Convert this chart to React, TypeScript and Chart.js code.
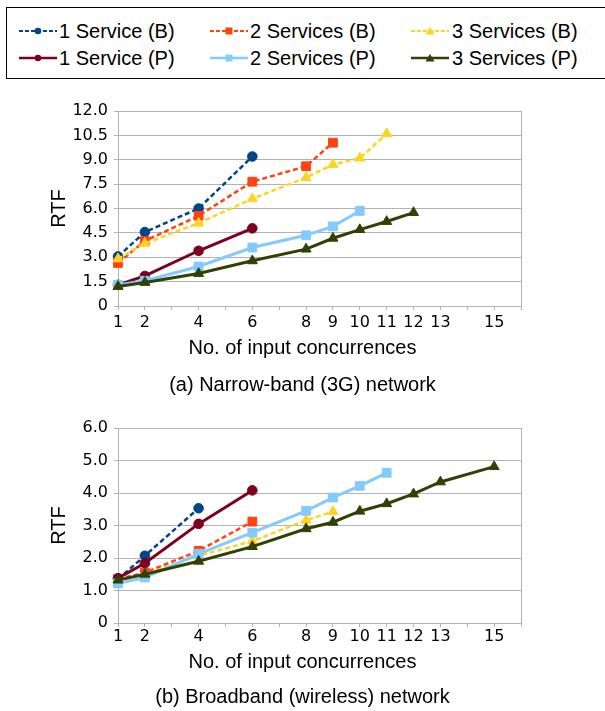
import React, { useEffect, useRef } from "react";
import { Chart, registerables } from "chart.js";

Chart.register(...registerables);

// ---- data ----
const CONCURRENCY = [1, 2, 4, 6, 8, 9, 10, 11, 12, 13, 15];
const X_TICK_MARKS = [1, 2, 3, 4, 5, 6, 7, 8, 9, 10, 11, 12, 13, 14, 15, 16];
const X_TICK_LABELS = [1, 2, 4, 6, 8, 9, 10, 11, 12, 13, 15];

const SERIES_NAMES = [
  "1 Service (B)",
  "2 Services (B)",
  "3 Services (B)",
  "1 Service (P)",
  "2 Services (P)",
  "3 Services (P)",
];
const SERIES_COLORS = ["#004586", "#ff420e", "#ffd320", "#7e0021", "#83caff", "#314004"];
const SERIES_DASHED = [true, true, true, false, false, false];
const SERIES_MARKERS = ["circle", "rect", "triangle", "circle", "rect", "triangle"];

// (a) Narrow-band (3G) network
const NB_1S_B = [3.05, 4.55, 6.0, 9.2];
const NB_2S_B = [2.65, 4.0, 5.55, 7.65, 8.6, 10.05];
const NB_3S_B = [2.9, 3.85, 5.1, 6.6, 7.9, 8.7, 9.1, 10.6];
const NB_1S_P = [1.3, 1.85, 3.4, 4.78];
const NB_2S_P = [1.3, 1.55, 2.43, 3.6, 4.35, 4.9, 5.85];
const NB_3S_P = [1.2, 1.45, 2.0, 2.78, 3.5, 4.17, 4.7, 5.2, 5.75];
const NB_Y_TICKS = [0, 1.5, 3, 4.5, 6, 7.5, 9, 10.5, 12];

// (b) Broadband (wireless) network
const BB_1S_B = [1.35, 2.07, 3.53];
const BB_2S_B = [1.35, 1.55, 2.22, 3.12];
const BB_3S_B = [1.3, 1.5, 2.07, 2.52, 3.16, 3.43];
const BB_1S_P = [1.38, 1.84, 3.05, 4.08];
const BB_2S_P = [1.22, 1.4, 2.13, 2.78, 3.45, 3.86, 4.22, 4.62];
const BB_3S_P = [1.32, 1.5, 1.9, 2.35, 2.9, 3.1, 3.44, 3.67, 3.97, 4.34, 4.81];
const BB_Y_TICKS = [0, 1, 2, 3, 4, 5, 6];

const TEXT_FONT = "'Liberation Sans', Arial, sans-serif";
const TICK_FONT = "'DejaVu Sans', sans-serif";
const GRID = "#b3b3b3";

const MARKER_RADIUS: Record<string, number> = { circle: 4.8, rect: 6.2, triangle: 5.8 };

function buildDatasets(series: number[][]) {
  const ds = series.map((ys, i) => ({
    label: SERIES_NAMES[i],
    data: ys.map((y, k) => ({ x: CONCURRENCY[k], y })),
    borderColor: SERIES_COLORS[i],
    backgroundColor: SERIES_COLORS[i],
    pointBackgroundColor: SERIES_COLORS[i],
    pointBorderColor: SERIES_COLORS[i],
    borderWidth: SERIES_DASHED[i] ? 2.5 : 3,
    borderDash: SERIES_DASHED[i] ? [5, 3] : [],
    pointStyle: SERIES_MARKERS[i],
    pointRadius: MARKER_RADIUS[SERIES_MARKERS[i]],
    pointBorderWidth: 1,
    tension: 0,
    clip: 12,
    yAxisID: "y",
  }));
  return ds.reverse();
}

const framePlugin = {
  id: "frame",
  beforeDatasetsDraw(chart: any) {
    const { ctx, chartArea } = chart;
    ctx.save();
    ctx.strokeStyle = GRID;
    ctx.lineWidth = 1;
    ctx.beginPath();
    const x = Math.round(chartArea.right) + 0.5;
    ctx.moveTo(x, chartArea.top);
    ctx.lineTo(x, chartArea.bottom);
    ctx.stroke();
    ctx.restore();
  },
};

type ChartProps = {
  series: number[][];
  yTicks: number[];
  yFormat: (v: number) => string;
  caption: string;
  top: number;
  height: number;
  padTop: number;
  xAxisHeight: number;
  xTickPadding: number;
  subPadTop: number;
  capPadTop: number;
  capPadBottom: number;
};

function RtfChart(p: ChartProps) {
  const ref = useRef<HTMLCanvasElement | null>(null);
  useEffect(() => {
    if (!ref.current) return;
    const yMax = p.yTicks[p.yTicks.length - 1];
    const chart = new Chart(ref.current, {
      type: "line",
      data: { datasets: buildDatasets(p.series) as any },
      plugins: [framePlugin],
      options: {
        responsive: false,
        animation: false,
        events: [],
        layout: { padding: { top: p.padTop, left: 0, right: 0, bottom: 0 } },
        plugins: {
          legend: { display: false },
          tooltip: { enabled: false },
          subtitle: {
            display: true,
            position: "bottom",
            text: "No. of input concurrences",
            color: "#000",
            font: { family: TEXT_FONT, size: 20, weight: "normal" as any, lineHeight: 1.2 },
            padding: { top: p.subPadTop, bottom: 0 },
          },
          title: {
            display: true,
            position: "bottom",
            text: p.caption,
            color: "#000",
            font: { family: TEXT_FONT, size: 20, weight: "normal" as any, lineHeight: 1.2 },
            padding: { top: p.capPadTop, bottom: p.capPadBottom },
          },
        },
        scales: {
          x: {
            type: "linear",
            min: 1,
            max: 16,
            afterBuildTicks: (s: any) => {
              s.ticks = X_TICK_MARKS.map((v) => ({ value: v }));
            },
            afterFit: (s: any) => {
              s.height = p.xAxisHeight;
            },
            ticks: {
              autoSkip: false,
              maxRotation: 0,
              minRotation: 0,
              padding: p.xTickPadding,
              color: "#000",
              font: { family: TICK_FONT, size: 16 },
              callback: (v: any) => (X_TICK_LABELS.includes(Number(v)) ? String(v) : ""),
            },
            grid: { drawOnChartArea: false, drawTicks: true, tickLength: 4, color: GRID },
            border: { color: GRID },
          },
          y: {
            type: "linear",
            position: "left",
            min: 0,
            max: yMax,
            afterBuildTicks: (s: any) => {
              s.ticks = p.yTicks.map((v) => ({ value: v }));
            },
            afterFit: (s: any) => {
              s.width = 118;
            },
            ticks: {
              padding: 6,
              color: "#000",
              font: { family: TICK_FONT, size: 16 },
              callback: (v: any) => p.yFormat(Number(v)),
            },
            grid: { color: GRID, tickLength: 4 },
            border: { color: GRID },
            title: {
              display: true,
              text: "RTF",
              color: "#000",
              font: { family: TEXT_FONT, size: 20, lineHeight: 1.2 },
              padding: { top: 47, bottom: 0 },
            },
          },
          spacer: {
            type: "linear",
            position: "right",
            display: true,
            min: 0,
            max: 1,
            ticks: { display: false },
            grid: { display: false, drawTicks: false },
            border: { display: false },
            afterFit: (s: any) => {
              s.width = 84;
            },
          },
        },
      } as any,
    });
    return () => chart.destroy();
  }, []);
  return (
    <canvas
      ref={ref}
      width={605}
      height={p.height}
      style={{ position: "absolute", left: 0, top: p.top, width: 605, height: p.height, display: "block" }}
    />
  );
}

function Swatch({ i }: { i: number }) {
  const c = SERIES_COLORS[i];
  const m = SERIES_MARKERS[i];
  return (
    <svg width={40} height={14} style={{ display: "block" }}>
      <line
        x1={0}
        y1={7}
        x2={38}
        y2={7}
        stroke={c}
        strokeWidth={SERIES_DASHED[i] ? 2 : 2.5}
        strokeDasharray={SERIES_DASHED[i] ? "4 2" : undefined}
      />
      {m === "circle" && <circle cx={19} cy={7} r={3.3} fill={c} />}
      {m === "rect" && <rect x={15.5} y={3.5} width={7} height={7} fill={c} />}
      {m === "triangle" && <polygon points="19,3 23.5,10.5 14.5,10.5" fill={c} />}
    </svg>
  );
}

const LEGEND_COLS = [
  { swatch: 19, text: 59 },
  { swatch: 210, text: 250 },
  { swatch: 411, text: 452 },
];
const LEGEND_ROWS = [31, 58];

function Legend() {
  const items: any[] = [];
  SERIES_NAMES.forEach((name, i) => {
    const col = LEGEND_COLS[i % 3];
    const row = LEGEND_ROWS[Math.floor(i / 3)];
    items.push(
      <div key={"s" + i} style={{ position: "absolute", left: col.swatch, top: row - 7 }}>
        <Swatch i={i} />
      </div>
    );
    items.push(
      <div
        key={"t" + i}
        style={{
          position: "absolute",
          left: col.text,
          top: row - 12,
          height: 24,
          lineHeight: "24px",
          fontFamily: TEXT_FONT,
          fontSize: 20,
          color: "#000",
          whiteSpace: "nowrap",
        }}
      >
        {name}
      </div>
    );
  });
  return (
    <>
      <div
        style={{
          position: "absolute",
          left: 6,
          top: 7,
          width: 620,
          height: 72,
          border: "1px solid #000",
          boxSizing: "border-box",
        }}
      />
      {items}
    </>
  );
}

export default function App() {
  return (
    <div
      style={{
        position: "absolute",
        left: 0,
        top: 0,
        width: 605,
        height: 711,
        overflow: "hidden",
        background: "#fff",
      }}
    >
      <Legend />
      <RtfChart
        series={[NB_1S_B, NB_2S_B, NB_3S_B, NB_1S_P, NB_2S_P, NB_3S_P]}
        yTicks={NB_Y_TICKS}
        yFormat={(v) => (v === 0 ? "0" : v.toFixed(1))}
        caption="(a) Narrow-band (3G) network"
        top={90}
        height={315}
        padTop={21}
        xAxisHeight={30}
        xTickPadding={3}
        subPadTop={0}
        capPadTop={13}
        capPadBottom={8}
      />
      <RtfChart
        series={[BB_1S_B, BB_2S_B, BB_3S_B, BB_1S_P, BB_2S_P, BB_3S_P]}
        yTicks={BB_Y_TICKS}
        yFormat={(v) => (v === 0 ? "0" : v.toFixed(1))}
        caption="(b) Broadband (wireless) network"
        top={405}
        height={306}
        padTop={23}
        xAxisHeight={27}
        xTickPadding={0}
        subPadTop={0}
        capPadTop={11}
        capPadBottom={2}
      />
    </div>
  );
}
